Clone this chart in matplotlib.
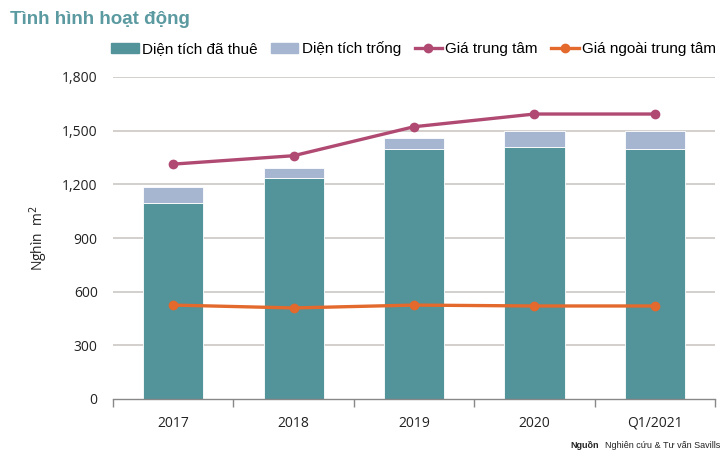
import matplotlib.pyplot as plt
import numpy as np
from matplotlib.lines import Line2D
from matplotlib.patches import Patch

categories = ['2017', '2018', '2019', '2020', 'Q1/2021']
leased = [1097, 1237, 1397, 1409, 1397]
vacant = [86, 52, 64, 87, 99]
central_price = [1313, 1360, 1522, 1593, 1593]
outer_price = [525, 509, 525, 520, 520]
yticks = [0, 300, 600, 900, 1200, 1500, 1800]

teal = '#53939a'
lightblue = '#a6b6d1'
plum = '#b04a72'
orange = '#e3692c'
grid_col = '#cbc7c3'
text_col = '#222222'
narrow = ['Liberation Sans', 'DejaVu Sans']

plt.rcParams['font.family'] = ['Open Sans', 'DejaVu Sans']

fig = plt.figure(figsize=(7.26, 4.67), dpi=100)
ax = fig.add_axes([113 / 726, 1 - 399 / 467, 602 / 726, 322 / 467])

x = np.arange(len(categories))
ax.bar(x, leased, width=0.5, color=teal, edgecolor='white', linewidth=0.6, zorder=2)
ax.bar(x, vacant, bottom=leased, width=0.5, color=lightblue, edgecolor='white', linewidth=0.6, zorder=2)
ax.plot(x, central_price, color=plum, lw=2.4, marker='o', ms=6, zorder=3)
ax.plot(x, outer_price, color=orange, lw=2.4, marker='o', ms=6, zorder=3)

ax.set_xlim(-0.5, len(categories) - 0.5)
ax.set_ylim(0, 1800)
ax.set_yticks(yticks)
ax.set_yticklabels([f'{v:,}' for v in yticks], fontsize=10, color=text_col)
ax.tick_params(axis='y', length=0, pad=11)
for v in yticks[1:]:
    ax.axhline(v, color=grid_col, lw=1.2, zorder=1)

ax.set_xticks(x)
ax.set_xticklabels(categories, fontsize=10, color=text_col)
ax.set_xticks(np.arange(-0.5, len(categories)), minor=True)
ax.tick_params(axis='x', which='major', length=0, pad=12)
ax.tick_params(axis='x', which='minor', length=6, color='#888888', width=1)

for s in ['top', 'right', 'left']:
    ax.spines[s].set_visible(False)
ax.spines['bottom'].set_color('#888888')
ax.spines['bottom'].set_linewidth(1)

ax.set_ylabel('Nghìn  m$^2$', fontsize=10, color=text_col, labelpad=9)

fig.text(10 / 726, 1 - 19 / 467, 'Tình hình hoạt động', fontsize=13.5, fontweight='bold',
         color='#5a9aa0', family=narrow, va='center')

handles = [
    Patch(color=teal),
    Patch(color=lightblue),
    Line2D([], [], color=plum, lw=2.4, marker='o', ms=6),
    Line2D([], [], color=orange, lw=2.4, marker='o', ms=6),
]
labels = ['Diện tích đã thuê', 'Diện tích trống', 'Giá trung tâm', 'Giá ngoài trung tâm']
fig.legend(handles, labels, loc='center right', bbox_to_anchor=(722 / 726, 1 - 49 / 467),
           ncol=4, frameon=False, prop={'family': narrow, 'size': 11},
           handlelength=1.8, handletextpad=0.2, columnspacing=0.9, borderaxespad=0)

src = fig.text(720 / 726, 1 - 446 / 467, 'Nghiên cứu & Tư vấn Savills', fontsize=6.5, color=text_col,
               family=narrow, ha='right', va='center')
ax.annotate('Nguồn', xy=(0, 0.5), xycoords=src, xytext=(-4, 0), textcoords='offset points',
            fontsize=6.5, fontweight='bold', color=text_col, family=narrow, ha='right', va='center')

fig.savefig('out.png', dpi=100)
